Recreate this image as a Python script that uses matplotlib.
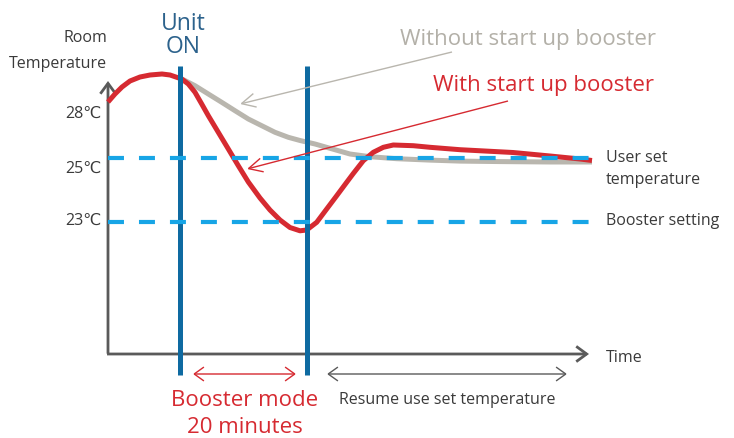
import numpy as np
import matplotlib
matplotlib.use('Agg')
import matplotlib.pyplot as plt
from matplotlib.patches import FancyArrowPatch
from matplotlib.scale import FuncScale

plt.rcParams['font.family'] = ['Open Sans', 'DejaVu Sans']
plt.rcParams['lines.scale_dashes'] = False

# ---------------- data (time in minutes, temperature in degC) ----------------
time_red = [-11.34, -10.24, -9.13, -7.87, -6.30, -4.72, -2.83, -1.57, -0.79,
            0.27, 1.31, 2.36, 3.42, 4.46, 6.03, 7.61, 9.18, 10.76, 12.60,
            14.17, 15.75, 17.32, 18.90, 19.95, 21.53, 23.10, 24.68, 26.25,
            27.29, 28.87, 30.44, 32.02, 33.59, 36.74, 39.37, 44.09, 52.44,
            58.27, 62.99, 64.88]
temp_red = [28.574, 29.085, 29.532, 29.915, 30.170, 30.298, 30.362, 30.298,
            30.189, 30.043, 29.723, 29.194, 28.447, 27.700, 26.640, 25.575,
            24.759, 24.250, 23.750, 23.375, 23.063, 22.828, 22.725, 22.750,
            22.991, 23.406, 23.822, 24.241, 24.516, 24.916, 25.364, 25.683,
            25.830, 25.785, 25.683, 25.530, 25.351, 25.128, 24.969, 24.922]

time_gray = [0.0, 2.36, 4.46, 6.57, 8.66, 10.76, 12.87, 14.96, 17.06, 18.90,
             21.26, 23.62, 26.77, 29.92, 34.13, 39.37, 44.09, 50.39, 58.27,
             64.88]
temp_gray = [30.106, 29.615, 29.085, 28.555, 28.019, 27.489, 27.062, 26.640,
             26.321, 26.117, 25.894, 25.619, 25.255, 25.083, 24.978, 24.934,
             24.903, 24.888, 24.875, 24.875]

unit_on_time = 0.0
booster_minutes = 20.0
user_set_temp = 25.0
booster_temp = 23.0
tick_temps = [28, 25, 23]
tick_labels = ['28\u2103', '25\u2103', '23\u2103']

# ---------------- colours ----------------
RED = '#d62a31'
GRAY_CURVE = '#b9b6ae'
GRAY_TEXT = '#b3b0a8'
DARK_BLUE = '#0e6aa1'
BLUE_TEXT = '#2c628c'
LIGHT_BLUE = '#17a5e6'
AXIS = '#5a5a5a'
TXT = '#3a3a3a'

W, H = 734, 439
fig = plt.figure(figsize=(W / 100, H / 100), dpi=100)
ax = fig.add_axes([0, 0, 1, 1])
ax.set_axis_off()

# schematic (not-to-scale) temperature scale: piecewise linear
kT = np.array([0.0, 23.0, 25.0, 28.0, 40.0])
kP = np.array([223 + 23 * 32.0, 223.0, 159.0, 112.0, 112 - 12 * 15.667])


def fwd(t):
    return -np.interp(t, kT, kP)


def inv(v):
    return np.interp(-v, kP[::-1], kT[::-1])


ax.set_yscale(FuncScale(ax, (fwd, inv)))
px_per_min = 127 / 20.0
ax.set_xlim((0 - 180) / px_per_min, (W - 180) / px_per_min)
ax.set_ylim(inv(-H), inv(0))


def tx(x):
    return (x - 180) / px_per_min


def ty(y):
    return inv(-y)


t0 = tx(108)      # axis origin
t_end = tx(592)
T_axis = ty(355)


def arrow(p, q, style, color, lw, ms=10, z=5):
    a = FancyArrowPatch(p, q, arrowstyle=style, color=color, lw=lw,
                        mutation_scale=ms, shrinkA=0, shrinkB=0, zorder=z,
                        capstyle='butt', joinstyle='miter')
    ax.add_patch(a)


# axes with arrows
arrow((t0, T_axis + 0.01), (t0, ty(82)), '->,head_length=0.75,head_width=0.55', AXIS, 2.0, z=2)
arrow((t0 - 0.15, T_axis), (tx(589), T_axis), '->,head_length=0.75,head_width=0.55', AXIS, 2.0, z=2)

# curves
ax.plot(time_gray, temp_gray, color=GRAY_CURVE, lw=3.6, solid_capstyle='butt',
        solid_joinstyle='round', zorder=3)
ax.plot(time_red, temp_red, color=RED, lw=3.6, solid_capstyle='butt',
        solid_joinstyle='round', zorder=4)

# vertical markers
for tv in [unit_on_time, unit_on_time + booster_minutes]:
    ax.plot([tv, tv], [ty(67), ty(376)], color=DARK_BLUE, lw=3.6,
            solid_capstyle='butt', zorder=5)

# dashed temperature lines
for Tv in [user_set_temp, booster_temp]:
    ax.plot([t0, t_end], [Tv, Tv], color=LIGHT_BLUE, lw=3.0, dashes=[11.5, 10.8], zorder=6)

# pointer arrows
arrow((tx(452), ty(53)), (tx(240), ty(105)), '->,head_length=1.0,head_width=0.5', GRAY_CURVE, 1.0, z=7)
arrow((tx(508), ty(102)), (tx(247), ty(170)), '->,head_length=1.0,head_width=0.5', RED, 1.0, z=7)

# duration arrows
T_dur = ty(375)
arrow((tx(193), T_dur), (tx(296), T_dur), '<->,head_length=0.7,head_width=0.5', RED, 1.0, z=7)
arrow((tx(327), T_dur), (tx(567), T_dur), '<->,head_length=0.7,head_width=0.5', AXIS, 1.0, z=7)


def ftext(x, y, s, **kw):
    kw.setdefault('va', 'baseline')
    fig.text(x / W, 1 - y / H, s, **kw)


ftext(183, 30, 'Unit', ha='center', fontsize=16.5, color=BLUE_TEXT)
ftext(183, 53, 'ON', ha='center', fontsize=16.5, color=BLUE_TEXT)
ftext(107, 42, 'Room', ha='right', fontsize=11.5, color=TXT)
ftext(107, 68, 'Temperature', ha='right', fontsize=11.5, color=TXT)
for lab, yy in zip(tick_labels, [118, 173, 225]):
    ftext(102, yy, lab, ha='right', fontsize=11.5, color=TXT)

ftext(400, 45, 'Without start up booster', ha='left', fontsize=16, color=GRAY_TEXT)
ftext(433, 91, 'With start up booster', ha='left', fontsize=16, color=RED)
ftext(606, 162, 'User set', ha='left', fontsize=11.5, color=TXT)
ftext(606, 184, 'temperature', ha='left', fontsize=11.5, color=TXT)
ftext(606, 225, 'Booster setting', ha='left', fontsize=11.5, color=TXT)
ftext(606, 362, 'Time', ha='left', fontsize=11.5, color=TXT)
ftext(245, 406, 'Booster mode', ha='center', fontsize=16, color=RED)
ftext(245, 433, '20 minutes', ha='center', fontsize=16, color=RED)
ftext(447, 404, 'Resume use set temperature', ha='center', fontsize=11.5, color=TXT)

fig.savefig('out.png', dpi=100)
